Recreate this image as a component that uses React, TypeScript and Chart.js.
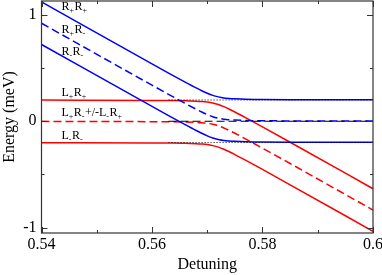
import { useEffect, useRef } from 'react';
import { Chart, registerables } from 'chart.js';

Chart.register(...registerables);

const detuning = [0.54, 0.56, 0.563, 0.566, 0.568, 0.569, 0.57, 0.571, 0.572, 0.573, 0.574, 0.575, 0.577, 0.58, 0.585, 0.6];

// Upper branches (blue)
const blueUpper = [1.121, 0.539, 0.453, 0.368, 0.313, 0.287, 0.263, 0.243, 0.229, 0.219, 0.214, 0.211, 0.207, 0.205, 0.203, 0.202];
const blueMiddle = [0.921, 0.339, 0.253, 0.168, 0.113, 0.087, 0.063, 0.043, 0.029, 0.019, 0.014, 0.011, 0.007, 0.005, 0.003, 0.002];
const blueLower = [0.721, 0.139, 0.053, -0.032, -0.087, -0.113, -0.137, -0.157, -0.171, -0.181, -0.186, -0.189, -0.193, -0.195, -0.197, -0.198];

// Lower branches (red)
const redUpper = [0.199, 0.196, 0.195, 0.193, 0.189, 0.186, 0.181, 0.172, 0.157, 0.137, 0.113, 0.087, 0.032, -0.053, -0.197, -0.634];
const redMiddle = [-0.001, -0.004, -0.005, -0.007, -0.011, -0.014, -0.019, -0.029, -0.043, -0.063, -0.087, -0.113, -0.168, -0.253, -0.397, -0.834];
const redLower = [-0.201, -0.204, -0.205, -0.207, -0.211, -0.214, -0.219, -0.229, -0.243, -0.263, -0.287, -0.313, -0.368, -0.453, -0.597, -1.034];

// Black reference levels
const refX = [0.563, 0.6];
const refUpper = [0.2, 0.2];
const refMiddle = [0, 0];
const refLower = [-0.2, -0.2];

// Axes
const xTickValues = [0.54, 0.56, 0.58, 0.6];
const xTickLabels = ['0.54', '0.56', '0.58', '0.6'];
const xMinorTicks = [0.55, 0.57, 0.59];
const yTickValues = [-1, 0, 1];
const yTickLabels = ['-1', '0', '1'];
const yMinorTicks = [-0.5, 0.5];

// State labels ("_" marks a subscript character)
const stateLabels = ['R_+R_+', 'R_+R_-', 'R_-R_-', 'L_+R_+', 'L_+R_-+/-L_-R_+', 'L_-R_-'];
const stateLabelY = [1.05, 0.832, 0.625, 0.24, 0.05, -0.165];
const stateLabelX = 0.5436;

const FONT = "'Liberation Serif', 'Times New Roman', serif";

const pts = (xs: number[], ys: number[]) => xs.map((x, i) => ({ x, y: ys[i] }));

const framePlugin = {
  id: 'frameTicks',
  afterDatasetsDraw(chart: any) {
    const { ctx, chartArea: a, scales } = chart;
    const x = scales.x;
    const y = scales.y;
    ctx.save();
    ctx.strokeStyle = '#333';
    ctx.lineWidth = 1.2;
    ctx.strokeRect(a.left, a.top, a.right - a.left, a.bottom - a.top);
    ctx.lineWidth = 1;
    ctx.beginPath();
    const xt = (v: number, len: number) => {
      const p = Math.round(x.getPixelForValue(v)) + 0.5;
      ctx.moveTo(p, a.bottom);
      ctx.lineTo(p, a.bottom - len);
      ctx.moveTo(p, a.top);
      ctx.lineTo(p, a.top + len);
    };
    const yt = (v: number, len: number) => {
      const p = Math.round(y.getPixelForValue(v)) + 0.5;
      ctx.moveTo(a.left, p);
      ctx.lineTo(a.left + len, p);
      ctx.moveTo(a.right, p);
      ctx.lineTo(a.right - len, p);
    };
    xTickValues.forEach((v) => xt(v, 6));
    xMinorTicks.forEach((v) => xt(v, 3));
    yTickValues.forEach((v) => yt(v, 6));
    yMinorTicks.forEach((v) => yt(v, 3));
    ctx.stroke();
    ctx.restore();
  },
};

const labelPlugin = {
  id: 'stateLabels',
  afterDatasetsDraw(chart: any) {
    const { ctx, scales } = chart;
    ctx.save();
    ctx.fillStyle = '#000';
    ctx.textBaseline = 'alphabetic';
    ctx.textAlign = 'left';
    stateLabels.forEach((text, i) => {
      let px = scales.x.getPixelForValue(stateLabelX);
      const py = scales.y.getPixelForValue(stateLabelY[i]);
      for (let k = 0; k < text.length; k++) {
        const ch = text[k];
        if (ch === '_' && k + 1 < text.length) {
          const sub = text[k + 1];
          ctx.font = `8px ${FONT}`;
          ctx.fillText(sub, px, py + 3.5);
          px += ctx.measureText(sub).width + 0.5;
          k++;
        } else {
          ctx.font = `12px ${FONT}`;
          ctx.fillText(ch, px, py);
          px += ctx.measureText(ch).width;
        }
      }
    });
    ctx.restore();
  },
};

export default function App() {
  const ref = useRef<HTMLCanvasElement | null>(null);

  useEffect(() => {
    document.body.style.margin = '0';
    const canvas = ref.current;
    if (!canvas) return;
    const solid = (label: string, ys: number[], color: string, dash: number[] = []) => ({
      label,
      data: pts(detuning, ys),
      borderColor: color,
      backgroundColor: color,
      borderWidth: 1.5,
      borderDash: dash,
      pointRadius: 0,
      fill: false,
      cubicInterpolationMode: 'monotone' as const,
    });
    const ref0 = (label: string, ys: number[], dash: number[]) => ({
      label,
      data: pts(refX, ys),
      borderColor: '#000',
      borderWidth: 1,
      borderDash: dash,
      pointRadius: 0,
      fill: false,
    });
    const chart = new Chart(canvas, {
      type: 'line',
      data: {
        datasets: [
          ref0('L+R+ level', refUpper, [1, 2]),
          ref0('L+R- level', refMiddle, [8, 4]),
          ref0('L-R- level', refLower, [1, 2]),
          solid('R+R+', blueUpper, '#0000ff'),
          solid('R+R-', blueMiddle, '#0000ff', [8, 4]),
          solid('R-R-', blueLower, '#0000ff'),
          solid('L+R+', redUpper, '#ff0000'),
          solid('L+R- +/- L-R+', redMiddle, '#ff0000', [8, 4]),
          solid('L-R-', redLower, '#ff0000'),
        ] as any,
      },
      options: {
        animation: false,
        responsive: false,
        devicePixelRatio: 1,
        layout: { padding: { left: 0, right: 9, top: 1, bottom: 0 } },
        plugins: { legend: { display: false }, tooltip: { enabled: false } },
        scales: {
          x: {
            type: 'linear',
            position: 'bottom',
            min: 0.54,
            max: 0.6,
            grid: { display: false, drawTicks: false },
            border: { display: false },
            ticks: {
              font: { family: FONT, size: 16 },
              color: '#000',
              padding: 2,
              maxRotation: 0,
              autoSkip: false,
              includeBounds: false,
              callback: (_v: any, i: number) => xTickLabels[i],
            },
            afterBuildTicks: (s: any) => {
              s.ticks = xTickValues.map((v) => ({ value: v }));
            },
            afterFit: (s: any) => {
              s.height = 42;
              s.paddingLeft = 0;
              s.paddingRight = 0;
            },
            title: {
              display: true,
              text: 'Detuning',
              font: { family: FONT, size: 16 },
              color: '#000',
              padding: { top: 0, bottom: 1 },
            },
          },
          y: {
            type: 'linear',
            min: -1.05,
            max: 1.13,
            grid: { display: false, drawTicks: false },
            border: { display: false },
            ticks: {
              font: { family: FONT, size: 16 },
              color: '#000',
              padding: 5,
              autoSkip: false,
              includeBounds: false,
              callback: (_v: any, i: number) => yTickLabels[i],
            },
            afterBuildTicks: (s: any) => {
              s.ticks = yTickValues.map((v) => ({ value: v }));
            },
            afterFit: (s: any) => {
              s.width = 41.5;
              s.paddingTop = 0;
              s.paddingBottom = 0;
            },
            title: {
              display: true,
              text: 'Energy (meV)',
              font: { family: FONT, size: 16 },
              color: '#000',
              padding: { top: 0, bottom: 0 },
            },
          },
        },
      } as any,
      plugins: [framePlugin, labelPlugin],
    });
    return () => chart.destroy();
  }, []);

  return (
    <div style={{ width: 382, height: 275 }}>
      <canvas ref={ref} width={382} height={275} style={{ display: 'block' }} />
    </div>
  );
}
